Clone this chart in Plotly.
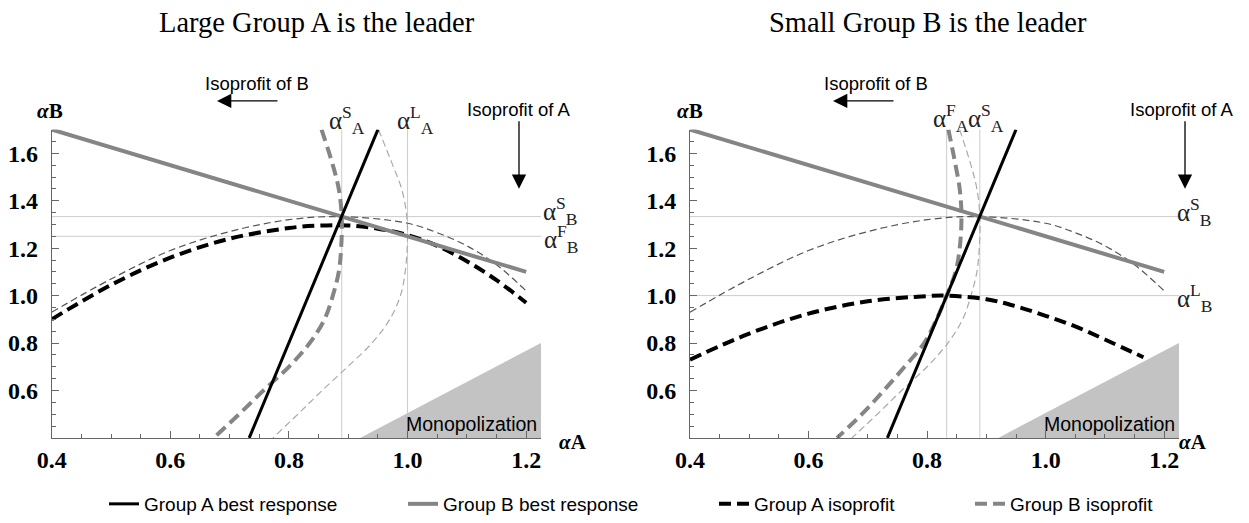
import plotly.graph_objects as go

W, H = 1249, 523          # browser window
OFF = 8                   # default page margin around the plot div
WF, HF = W - OFF, H - OFF  # figure size

# ---------------- data ----------------
# Group A best response (straight line)
brA_x = [0.733, 0.95]
brA_y = [0.40, 1.70]
# Group B best response (straight line)
brB_x = [0.40, 1.20]
brB_y = [1.70, 1.10]

# Group A isoprofit through the simultaneous (Nash) point - thin
isoA_nash_x = [0.40, 0.50, 0.60, 0.70, 0.80, 0.889, 1.00, 1.05, 1.10, 1.15, 1.20]
isoA_nash_y = [0.93, 1.07, 1.19, 1.27, 1.32, 1.333, 1.305, 1.265, 1.21, 1.13, 1.02]
# Group B isoprofit through the simultaneous (Nash) point
isoB_nash_y = [1.70, 1.55, 1.45, 1.333, 1.20, 1.10, 1.00, 0.90, 0.80, 0.70, 0.60, 0.50, 0.40]
isoB_nash_x = [0.855, 0.874, 0.884, 0.889, 0.888, 0.884, 0.874, 0.860, 0.835, 0.800, 0.757, 0.716, 0.673]

# Left panel: A leader isoprofit (thick) and B isoprofit at that outcome (thin)
isoA_lead_x = [0.40, 0.50, 0.60, 0.70, 0.80, 0.85, 0.90, 0.95, 1.00, 1.05, 1.10, 1.15, 1.20]
isoA_lead_y = [0.90, 1.045, 1.16, 1.24, 1.285, 1.295, 1.296, 1.282, 1.255, 1.21, 1.145, 1.065, 0.97]
isoB_foll_y = [1.70, 1.55, 1.45, 1.35, 1.25, 1.10, 1.00, 0.90, 0.80, 0.70, 0.60, 0.50, 0.40]
isoB_foll_x = [0.951, 0.975, 0.99, 0.998, 1.00, 0.996, 0.988, 0.970, 0.940, 0.899, 0.856, 0.815, 0.773]

# Right panel: B leader isoprofit (thick) and A isoprofit at that outcome (thick)
isoB_lead_y = [1.70, 1.55, 1.45, 1.333, 1.20, 1.10, 1.00, 0.90, 0.80, 0.70, 0.60, 0.50, 0.40]
isoB_lead_x = [0.836, 0.848, 0.855, 0.858, 0.855, 0.848, 0.833, 0.816, 0.795, 0.762, 0.727, 0.690, 0.648]
isoA_foll_x = [0.40, 0.50, 0.60, 0.70, 0.80, 0.833, 0.90, 0.95, 1.00, 1.05, 1.10, 1.165]
isoA_foll_y = [0.73, 0.84, 0.924, 0.976, 0.998, 1.00, 0.985, 0.955, 0.915, 0.87, 0.815, 0.74]

# Monopolization region
mono_x = [0.92, 1.225, 1.225]
mono_y = [0.40, 0.40, 0.80]

# Reference levels
left_vlines = {"S": 0.889, "L": 1.0}
left_hlines = {"S": 1.333, "F": 1.25}
right_vlines = {"F": 0.833, "S": 0.889}
right_hlines = {"S": 1.333, "L": 1.0}

x_ticks = [0.4, 0.6, 0.8, 1.0, 1.2]
y_ticks = [0.6, 0.8, 1.0, 1.2, 1.4, 1.6]
titles = ["Large Group A is the leader", "Small Group B is the leader"]
legend_names = ["Group A best response", "Group B best response",
                "Group A isoprofit", "Group B isoprofit"]

# ---------------- styling ----------------
SERIF = "Liberation Serif"
SANS = "Liberation Sans"
THICK_DASH = "12px,6px"
THIN_DASH = "7px,4px"

fig = go.Figure()


def px(x):
    return (x - OFF) / WF


def py(y):
    return 1 - (y - OFF) / HF


def add_panel(xr, yr, show_leg, thick_A, thick_B, thin_A, thin_B):
    fig.add_trace(go.Scatter(x=mono_x, y=mono_y, fill="toself", fillcolor="#c3c3c3",
                             line=dict(width=0), mode="lines", hoverinfo="skip",
                             showlegend=False, xaxis=xr, yaxis=yr))
    fig.add_trace(go.Scatter(x=thin_A[0], y=thin_A[1], mode="lines", line_shape="spline",
                             line=dict(color="#555555", width=1.2, dash=THIN_DASH),
                             showlegend=False, xaxis=xr, yaxis=yr))
    fig.add_trace(go.Scatter(x=thin_B[0], y=thin_B[1], mode="lines", line_shape="spline",
                             line=dict(color="#aaaaaa", width=1.2, dash=THIN_DASH),
                             showlegend=False, xaxis=xr, yaxis=yr))
    fig.add_trace(go.Scatter(x=thick_A[0], y=thick_A[1], mode="lines", line_shape="spline",
                             line=dict(color="black", width=4, dash=THICK_DASH),
                             name=legend_names[2], legend="legend3",
                             showlegend=show_leg, xaxis=xr, yaxis=yr))
    fig.add_trace(go.Scatter(x=thick_B[0], y=thick_B[1], mode="lines", line_shape="spline",
                             line=dict(color="#858585", width=4, dash=THICK_DASH),
                             name=legend_names[3], legend="legend4",
                             showlegend=show_leg, xaxis=xr, yaxis=yr))
    fig.add_trace(go.Scatter(x=brB_x, y=brB_y, mode="lines",
                             line=dict(color="#858585", width=4),
                             name=legend_names[1], legend="legend2",
                             showlegend=show_leg, xaxis=xr, yaxis=yr))
    fig.add_trace(go.Scatter(x=brA_x, y=brA_y, mode="lines",
                             line=dict(color="black", width=3),
                             name=legend_names[0], legend="legend",
                             showlegend=show_leg, xaxis=xr, yaxis=yr))


add_panel("x", "y", True,
          (isoA_lead_x, isoA_lead_y), (isoB_nash_x, isoB_nash_y),
          (isoA_nash_x, isoA_nash_y), (isoB_foll_x, isoB_foll_y))
add_panel("x2", "y2", False,
          (isoA_foll_x, isoA_foll_y), (isoB_lead_x, isoB_lead_y),
          (isoA_nash_x, isoA_nash_y), (isoB_nash_x, isoB_nash_y))

shapes = []
for xr, yr, vl, hl in [("x", "y", left_vlines, left_hlines), ("x2", "y2", right_vlines, right_hlines)]:
    for v in vl.values():
        shapes.append(dict(type="line", xref=xr, yref=yr + " domain", x0=v, x1=v, y0=0, y1=1,
                           line=dict(color="#cccccc", width=1), layer="below"))
    for h in hl.values():
        shapes.append(dict(type="line", xref=xr + " domain", yref=yr, x0=0, x1=1, y0=h, y1=h,
                           line=dict(color="#cccccc", width=1), layer="below"))

AX = "#666666"
xdoms = [[px(51.7), px(541)], [px(690), px(1179)]]
ydom = [py(443), py(131)]
TICKFONT = dict(family=SERIF, size=24, color="black", weight="bold")


def xaxis_def(dom, anchor):
    return dict(domain=dom, range=[0.4, 1.225], anchor=anchor, tickmode="array",
                tickvals=x_ticks, tickformat=".1f", ticks="inside", ticklen=7,
                tickcolor=AX, showline=True, linecolor=AX, linewidth=1,
                showgrid=False, zeroline=False, automargin=False, tickfont=TICKFONT,
                minor=dict(tickmode="linear", tick0=0.4, dtick=0.05, ticks="inside",
                           ticklen=4, tickcolor=AX, showgrid=False))


def yaxis_def(anchor):
    return dict(domain=ydom, range=[0.4, 1.70], anchor=anchor, tickmode="array",
                tickvals=y_ticks, tickformat=".1f", ticks="inside", ticklen=7,
                tickcolor=AX, showline=True, linecolor=AX, linewidth=1,
                showgrid=False, zeroline=False, ticklabelstandoff=8, automargin=False,
                tickfont=TICKFONT,
                minor=dict(tickmode="linear", tick0=0.4, dtick=0.05, ticks="inside",
                           ticklen=4, tickcolor=AX, showgrid=False))


ann = []


def text_ann(t, cx, cy, font, **kw):
    d = dict(text=t, x=px(cx), y=py(cy), xref="paper", yref="paper", showarrow=False,
             xanchor="center", yanchor="middle", font=font)
    d.update(kw)
    ann.append(d)


for t, cx in zip(titles, [317, 928]):
    text_ann(t, cx, 23, dict(family=SERIF, size=28.5, color="black"))

LBL = dict(family=SERIF, size=21, color="black", weight="bold")
for cx in [50, 690]:
    text_ann("<i>α</i>B", cx, 112, LBL)
for cx in [573, 1193]:
    text_ann("<i>α</i>A", cx, 447, LBL)

afont = dict(family=SERIF, size=25, color="#222222")
greek = [
    ("α<sup>S</sup><sub>A</sub>", 347, 121), ("α<sup>L</sup><sub>A</sub>", 415, 121),
    ("α<sup>S</sup><sub>B</sub>", 560, 213), ("α<sup>F</sup><sub>B</sub>", 561, 242),
    ("α<sup>F</sup><sub>A</sub>", 951, 119), ("α<sup>S</sup><sub>A</sub>", 986, 119),
    ("α<sup>S</sup><sub>B</sub>", 1194, 214), ("α<sup>L</sup><sub>B</sub>", 1195, 301),
]
for t, cx, cy in greek:
    text_ann(t, cx, cy, afont)

sfont = dict(family=SANS, size=18.5, color="black")
for cx, tx in [(257, 217), (876, 833)]:
    text_ann("Isoprofit of B", cx, 84, sfont)
    ann.append(dict(text="", x=px(tx), y=py(102), xref="paper", yref="paper", showarrow=True,
                    ax=62, ay=0, arrowhead=2, arrowsize=2.2, arrowwidth=1.3, arrowcolor="black"))
for cx, hx in [(518, 519), (1181, 1185)]:
    text_ann("Isoprofit of A", cx, 111, sfont)
    ann.append(dict(text="", x=px(hx), y=py(191), xref="paper", yref="paper", showarrow=True,
                    ax=0, ay=-69, arrowhead=2, arrowsize=2.2, arrowwidth=1.3, arrowcolor="black"))

for xr, yr in [("x", "y"), ("x2", "y2")]:
    ann.append(dict(text="Monopolization", x=1.222, y=0.405, xref=xr, yref=yr, xanchor="right",
                    yanchor="bottom", showarrow=False,
                    font=dict(family=SANS, size=19.5, color="black")))

LEGFONT = dict(family=SANS, size=19, color="black")
text_starts = [144, 443, 754, 1010]


def leg(ts):
    return dict(orientation="h", x=px(ts - 40), y=py(510), xanchor="left", yanchor="middle",
                font=LEGFONT, bgcolor="rgba(0,0,0,0)", borderwidth=0)


fig.update_layout(
    width=WF, height=HF, margin=dict(l=0, r=0, t=0, b=0),
    paper_bgcolor="white", plot_bgcolor="white",
    xaxis=xaxis_def(xdoms[0], "y"), yaxis=yaxis_def("x"),
    xaxis2=xaxis_def(xdoms[1], "y2"), yaxis2=yaxis_def("x2"),
    shapes=shapes, annotations=ann,
    legend=leg(text_starts[0]), legend2=leg(text_starts[1]),
    legend3=leg(text_starts[2]), legend4=leg(text_starts[3]),
    showlegend=True,
)

fig.write_html("out.html")
